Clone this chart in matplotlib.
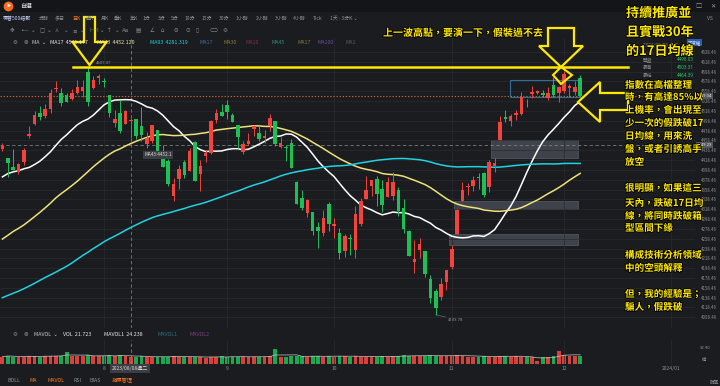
import matplotlib.pyplot as plt
import matplotlib.patheffects as pe
from matplotlib.patches import Polygon, Rectangle
import numpy as np
import pandas as pd

plt.rcParams['font.family'] = ['Noto Sans CJK TC', 'DejaVu Sans']

# 標普500指數 日K, 2023/07/05 - 2023/12/06
opens = [4442.04, 4422.62, 4404.54, 4394.23, 4415.55, 4467.69, 4491.50, 4514.61, 4508.86, 4521.78,
         4563.87, 4554.38, 4550.16, 4543.39, 4555.19, 4558.96, 4598.26, 4565.75, 4584.82,
         4578.83, 4550.93, 4494.27, 4513.96, 4491.58, 4498.03, 4501.57, 4487.16, 4450.69, 4458.13,
         4478.87, 4433.79, 4416.32, 4344.88, 4380.28, 4415.33, 4396.44, 4455.16, 4389.38, 4426.03,
         4432.75, 4500.34, 4517.01,
         4530.60, 4510.06, 4490.35, 4434.55, 4451.30, 4480.98, 4473.27, 4462.65, 4487.78, 4497.98,
         4445.13, 4445.41, 4452.81, 4374.36, 4341.74, 4310.62, 4312.88, 4282.63, 4269.65, 4328.18,
         4284.52, 4269.75, 4233.83, 4259.31, 4234.79, 4289.02, 4339.75, 4366.59, 4380.94, 4360.49,
         4342.37, 4345.23, 4357.35, 4321.36, 4273.85, 4210.40, 4235.79, 4232.42, 4175.99, 4152.93,
         4139.39, 4171.33,
         4201.27, 4268.26, 4334.23, 4364.27, 4366.21, 4384.37, 4391.41, 4364.15, 4406.66, 4458.97,
         4505.30, 4497.08, 4509.55, 4511.70, 4538.77, 4553.04, 4555.84, 4554.86, 4545.55, 4571.84,
         4554.87,
         4559.43, 4564.37, 4557.25, 4586.23]
highs = [4454.06, 4422.62, 4440.39, 4412.60, 4443.64, 4488.34, 4517.38, 4527.76, 4532.85, 4562.30,
         4578.43, 4564.74, 4555.00, 4563.41, 4580.62, 4582.47, 4607.07, 4590.16, 4594.22,
         4584.62, 4550.93, 4519.49, 4540.34, 4519.84, 4503.31, 4502.44, 4527.37, 4476.23, 4490.33,
         4478.87, 4449.95, 4421.17, 4381.82, 4407.55, 4418.59, 4443.18, 4458.30, 4418.46, 4439.56,
         4500.14, 4521.65, 4532.26,
         4541.25, 4514.29, 4490.35, 4457.81, 4473.53, 4490.77, 4487.11, 4479.39, 4511.99, 4497.98,
         4466.36, 4449.85, 4461.03, 4375.70, 4357.40, 4338.51, 4313.01, 4292.07, 4317.27, 4333.15,
         4300.58, 4281.15, 4268.50, 4267.13, 4324.10, 4341.73, 4385.46, 4378.64, 4385.85, 4377.10,
         4383.33, 4393.57, 4364.20, 4339.54, 4276.56, 4255.84, 4259.38, 4232.42, 4183.60, 4156.70,
         4177.47, 4195.55,
         4245.64, 4319.72, 4373.62, 4372.21, 4386.26, 4391.20, 4393.40, 4418.03, 4421.76, 4508.67,
         4521.17, 4511.99, 4520.12, 4557.11, 4542.14, 4568.43, 4560.31, 4560.52, 4568.14, 4587.64,
         4569.89,
         4599.39, 4572.37, 4578.56, 4590.74]
lows = [4436.61, 4385.05, 4397.40, 4389.92, 4408.46, 4463.23, 4489.36, 4499.56, 4504.90, 4514.59,
        4557.48, 4527.56, 4535.79, 4541.29, 4552.42, 4547.58, 4528.56, 4564.01, 4573.14,
        4567.53, 4505.75, 4485.54, 4474.55, 4491.15, 4464.39, 4461.33, 4457.92, 4443.98, 4453.44,
        4432.19, 4403.55, 4364.83, 4335.31, 4360.30, 4382.77, 4396.44, 4375.55, 4356.29, 4414.98,
        4431.68, 4493.59, 4507.39,
        4501.35, 4496.01, 4442.38, 4430.46, 4448.38, 4467.89, 4456.83, 4453.52, 4478.69, 4447.21,
        4442.11, 4416.61, 4401.38, 4329.17, 4316.49, 4302.70, 4265.98, 4238.63, 4264.38, 4274.86,
        4260.21, 4216.45, 4220.48, 4225.91, 4219.55, 4283.79, 4339.64, 4345.34, 4325.43, 4311.97,
        4342.37, 4337.54, 4303.84, 4269.69, 4223.03, 4189.22, 4219.43, 4181.42, 4127.90, 4103.78,
        4132.94, 4153.12,
        4197.74, 4268.26, 4334.23, 4347.53, 4355.41, 4359.76, 4343.94, 4353.34, 4393.82, 4458.97,
        4495.31, 4487.83, 4499.66, 4510.36, 4525.51, 4545.05, 4552.80, 4546.32, 4540.51, 4547.15,
        4537.24,
        4554.71, 4546.72, 4551.68, 4546.50]
closes = [4446.82, 4411.59, 4398.95, 4409.53, 4439.26, 4472.16, 4510.04, 4505.42, 4522.79, 4554.98,
          4565.72, 4534.87, 4536.34, 4554.64, 4567.46, 4566.75, 4537.41, 4582.23, 4588.96,
          4576.73, 4513.39, 4501.89, 4478.03, 4518.44, 4499.38, 4467.71, 4468.83, 4464.05, 4489.72,
          4437.86, 4404.33, 4370.36, 4369.71, 4399.77, 4387.55, 4436.01, 4376.31, 4405.71, 4433.31,
          4497.63, 4514.87, 4507.66,
          4515.77, 4496.83, 4465.48, 4451.14, 4457.49, 4487.46, 4461.90, 4467.44, 4505.10, 4450.32,
          4453.53, 4443.95, 4402.20, 4330.00, 4320.06, 4337.44, 4273.53, 4274.51, 4299.70, 4288.05,
          4288.39, 4229.45, 4263.75, 4258.19, 4308.50, 4335.66, 4358.24, 4376.95, 4349.61, 4327.78,
          4373.63, 4373.20, 4314.60, 4278.00, 4224.16, 4217.04, 4247.68, 4186.77, 4137.23, 4117.37,
          4166.82, 4193.80,
          4237.86, 4317.78, 4358.34, 4365.98, 4378.38, 4382.78, 4347.35, 4415.24, 4411.55, 4495.70,
          4502.88, 4508.24, 4514.02, 4547.38, 4538.19, 4556.62, 4559.34, 4550.43, 4554.89, 4550.58,
          4567.80,
          4594.63, 4569.78, 4567.18, 4549.34]
# 成交量 (億)
volumes = [22, 25, 22, 21, 22, 24, 23, 22, 23, 24, 25, 25, 37, 23, 23, 24, 27, 23, 24,
           23, 26, 24, 27, 22.467, 21.723, 22, 23, 20, 20, 21, 22, 22, 24, 21, 20, 20, 22, 22, 18,
           21, 20, 23,
           20, 22, 21, 22, 20, 21, 22, 22, 23, 46, 21, 22, 23, 24, 23, 21, 23, 24, 22, 24,
           22, 24, 23, 22, 24, 20, 22, 21, 22, 23, 22, 23, 23, 26, 25, 24, 24, 24, 26, 25, 23, 24,
           25, 26, 25, 22, 22, 22, 23, 22, 20, 25, 24, 22, 23, 20, 20, 19, 8, 21, 22, 23, 39,
           26, 24, 24, 23]
# closes 2023/02/21 - 2023/07/03, only used to warm up the moving averages
warmup_closes = [3997.34, 3991.05, 4012.32, 3970.04, 3982.24, 3970.15,
                 3951.39, 3981.35, 4045.64, 4048.42, 3986.37, 3992.01, 3918.32, 3861.59, 3855.76,
                 3919.29, 3891.93, 3960.28, 3916.64, 3951.57, 4002.87, 3936.97, 3948.72, 3970.99,
                 3977.53, 3971.27, 4027.81, 4050.83, 4109.31,
                 4124.51, 4100.60, 4090.38, 4105.02, 4109.11, 4108.94, 4091.95, 4146.22, 4137.64,
                 4151.32, 4154.87, 4154.52, 4129.79, 4133.52, 4137.04, 4071.63, 4055.99, 4135.35,
                 4169.48,
                 4167.87, 4119.58, 4090.75, 4061.22, 4136.25, 4138.12, 4119.17, 4137.64, 4130.62,
                 4124.08, 4136.28, 4109.90, 4158.77, 4198.05, 4191.98, 4192.63, 4145.58, 4115.24,
                 4151.28, 4205.45, 4205.52, 4179.83,
                 4221.02, 4282.37, 4273.79, 4283.85, 4267.52, 4293.93, 4298.86, 4338.93, 4369.01,
                 4372.59, 4425.84, 4409.59, 4388.71, 4365.69, 4381.89, 4348.33, 4328.82, 4378.41,
                 4376.86, 4396.44, 4450.38,
                 4455.59]

month_idx = [19, 42, 62, 84, 105, 125]
month_lbl = ['8', '9', '10', '11', '12', '2024/01']
ma_periods = [17, 43, 93]
ma_colors = ['#ffffff', '#efe27a', '#1fd3e3']
cross_idx = 24          # 2023/08/08
cross_price = 4449.23
gap_idx = [84, 85, 92]  # 11/01, 11/02, 11/13 -> 跳空缺口
box_x = (94.9, 107.9)
box_y = (4546.8, 4581.4)

BG = '#1b1c1f'
GRID = '#2a2b30'
RED = '#f2433c'
GREEN = '#1fbf58'
YEL = '#ffe800'
TXT = '#8e8f94'

o = np.array(opens); h = np.array(highs); l = np.array(lows); c = np.array(closes)
v = np.array(volumes)
idx = np.arange(len(c))
up = c >= o
col = np.where(up, RED, GREEN)

allc = pd.Series(warmup_closes + closes)
mas = [allc.rolling(p).mean().values[len(warmup_closes):] for p in ma_periods]
mavol = pd.Series(v).rolling(5, min_periods=1).mean().values

W, H = 720, 386
def fx(x):
    return x / W
def fy(y):
    return 1 - y / H

fig = plt.figure(figsize=(7.2, 3.86), dpi=100, facecolor=BG)

# ---- main price panel
ax = fig.add_axes([0, fy(328), fx(695), (328 - 38) / H], facecolor=BG)
ax.set_xlim(-0.449, 129.46)
ax.set_ylim(4076.70, 4666.97)
yt = np.arange(4098.46, 4640, 20)
ax.set_yticks(yt)
ax.set_yticklabels([f'{t:.2f}' for t in yt])
ax.yaxis.tick_right()
ax.tick_params(axis='y', length=0, pad=4, labelsize=3.1, labelcolor=TXT)
ax.set_xticks(month_idx)
ax.tick_params(axis='x', length=0, labelbottom=False)
ax.grid(True, color=GRID, lw=0.5)
for s in ax.spines.values():
    s.set_visible(False)
ax.axvline(129.46, color='#3a3b40', lw=0.6)

# gap zones and consolidation box
for g in gap_idx:
    ax.add_patch(Rectangle((g - 0.6, h[g]), box_x[1] - 0.3 - (g - 0.6), l[g + 1] - h[g],
                           facecolor='#4a505a', edgecolor='#5c626c', alpha=0.75, lw=0.6, zorder=1))
ax.add_patch(Rectangle((box_x[0], box_y[0]), box_x[1] - box_x[0], box_y[1] - box_y[0],
                       facecolor='none', edgecolor='#2f6f98', lw=0.8, zorder=4))

# moving averages
for m, cc in zip(mas, ma_colors):
    ax.plot(idx, m, color=cc, lw=1.1, zorder=3)

# candles
ax.vlines(idx, l, h, colors=col, lw=0.7, zorder=5)
body = np.maximum(np.abs(c - o), 0.8)
ax.bar(idx, body, bottom=np.minimum(o, c), width=0.66, color=col, zorder=6, lw=0)

# reference lines
imax = int(np.argmax(h)); imin = int(np.argmin(l))
ax.plot([13.2, 117], [h[imax], h[imax]], color=YEL, lw=1.8, zorder=7)
ax.axhline(c[-1], color='#c3672d', lw=0.8, ls=(0, (1.2, 1.6)), zorder=2)
ax.axhline(cross_price, color='#7d7e84', lw=0.6, ls=(0, (4, 3)), zorder=2)
ax.axvline(cross_idx, color='#7d7e84', lw=0.6, ls=(0, (4, 3)), zorder=2)
ax.annotate(f'{h[imax]:.2f}', xy=(imax, h[imax]), xytext=(6, 2.5), textcoords='offset points',
            fontsize=3.1, color=TXT, family='Roboto')
ax.annotate(f'{l[imin]:.2f}', xy=(imin, l[imin]), xytext=(9, -3.5), textcoords='offset points',
            fontsize=3.1, color=TXT, family='Roboto', va='center',
            arrowprops=dict(arrowstyle='-', color='#6d6e73', lw=0.5, shrinkA=0, shrinkB=0))

# ---- volume panel
av = fig.add_axes([0, fy(363.5), fx(695), 23.5 / H], facecolor=BG)
av.set_xlim(-0.449, 129.46)
av.set_ylim(0, 74)
av.bar(idx, v, width=0.72, color=np.where(up, '#d8403a', '#1aa851'), lw=0)
av.plot(idx, mavol, color='#c9c9c9', lw=0.5)
av.set_xticks(month_idx)
av.set_xticklabels(month_lbl)
av.tick_params(axis='x', length=0, pad=1.5, labelsize=3.6, labelcolor=TXT)
av.set_yticks([])
av.grid(True, axis='x', color=GRID, lw=0.5)
for s in av.spines.values():
    s.set_visible(False)
av.axvline(cross_idx, color='#7d7e84', lw=0.6, ls=(0, (4, 3)))
av.axvline(129.46, color='#3a3b40', lw=0.6)

# ---- overlay for the UI text and hand drawn marks
ov = fig.add_axes([0, 0, 1, 1])
ov.set_xlim(0, W); ov.set_ylim(H, 0)
ov.axis('off')
ov.patch.set_alpha(0)

def t(x, y, s, size=4, color=TXT, ha='left', **kw):
    ov.text(x, y, s, fontsize=size, color=color, ha=ha, va='center', **kw)

# title bar
ov.add_patch(Rectangle((0, 0), W, 12, facecolor='#141518', lw=0))
ov.plot([8], [6], 'o', ms=6, color='#ff6a1a')
t(6.6, 6, '▶', 3, 'white')
t(20, 6, '自選', 4.2, '#e6e6e6')
t(695, 6, '□', 4.5, '#9a9a9a')
t(710, 6, '✕', 4.5, '#9a9a9a')

# period tabs
tabs = [(3, '標普500指數', '#c9d4ff'), (39, '分時', TXT), (55, '多日', TXT), (72, '日K', '#ff7a1f'),
        (86, '週K', TXT), (101, '月K', TXT), (114, '季K', TXT), (130, '年K', TXT), (143, '1分', TXT),
        (158, '3分', TXT), (171, '5分', TXT), (185, '10分', TXT), (202, '15分', TXT), (219, '30分', TXT),
        (236, '1小時', TXT), (256, '2小時', TXT), (275, '3小時', TXT), (293, '4小時', TXT),
        (313, 'Tick', TXT), (330, '1天 : 3分K ⌄', TXT)]
for x, s, cc in tabs:
    t(x, 18.3, s, 3.6, cc)
t(707, 18.3, 'VS', 3.6, TXT)

# tool icons
icons = [(10, '✥'), (20, '•—'), (31, '⌄'), (40, '▢'), (47, '⌄'), (55, '⋏'), (64, '⌄'), (72, '≡'),
         (80, '⌄'), (89, '⊢⊣'), (100, '⌄'), (107, '↑'), (115, '⌄'), (122, 'Aa'), (136, '▤'),
         (150, '∠'), (161, '⌂'), (173, '⊖'), (185, '⊙'), (196, '▯'), (210, '⊂⊃'), (223, '⚙')]
for x, s in icons:
    t(x, 30.7, s, 4, '#8a8b90', family='DejaVu Sans')

# MA legend
t(13, 42.3, '⚙', 4, TXT, family='DejaVu Sans')
t(24, 42.3, '⊗', 4, TXT, family='DejaVu Sans')
t(32, 42.3, 'MA  ⌄', 3.8, '#c8c8c8')
t(50, 42.3, f'MA17  {mas[0][cross_idx]:.3f}', 3.8, '#e8e8e8')
t(97, 42.3, f'MA43  {mas[1][cross_idx]:.3f}', 3.8, '#efe7a8')
t(150, 42.3, f'MA93  {mas[2][cross_idx]:.3f}', 3.8, '#1fd3e3')
for x, s, cc in [(200, 'MA17', '#3f6f9a'), (223, 'MA30', '#8d7a3a'), (245, 'MA10', '#8a2f35'),
                 (272, 'MA45', '#2f8f86'), (297, 'MA17', '#8d7a3a'), (318, 'MA100', '#6e4aa8'),
                 (346, 'MA1', '#5a5b60')]:
    t(x, 42.3, s, 3.8, cc)

# value boxes on the price scale
t(697, 95.6, f'{c[-1]:.2f}', 3.1, '#e8e8e8', family='Roboto',
  bbox=dict(boxstyle='square,pad=0.25', fc='#55575d', ec='none'))
t(697, 145, f'{cross_price:.2f}', 3.1, '#e8e8e8', family='Roboto',
  bbox=dict(boxstyle='square,pad=0.25', fc='#55575d', ec='none'))
t(158, 155, f'MA43:{mas[1][cross_idx]:.1f}', 3.4, '#d8d8d8', ha='center',
  bbox=dict(boxstyle='square,pad=0.3', fc='#3b3d42', ec='none'))

# info panel (crosshair bar)
t(643, 45, '2023/08/08 週二', 3.4, TXT)
t(688, 42.5, '不復權', 3.2, '#cfe0ff', bbox=dict(boxstyle='square,pad=0.2', fc='#2d5fa8', ec='none'))
for y, k, val in [(59.5, '開盤', o[cross_idx]), (67.5, '最高', h[cross_idx]), (75.5, '最低', l[cross_idx])]:
    t(643, y, k, 3.4, TXT)
    t(677, y, f'{val:.2f}', 3.4, '#22c25e', family='Roboto')

# volume legend and scale
t(13, 334.7, '⚙', 4, TXT, family='DejaVu Sans')
t(24, 334.7, '⊗', 4, TXT, family='DejaVu Sans')
t(34, 334.7, 'MAVOL  ⌄', 3.8, '#c8c8c8')
t(63, 334.7, f'VOL  {v[cross_idx]:.3f}', 3.8, '#e8e8e8')
t(104, 334.7, f'MAVOL1  {mavol[cross_idx]:.3f}', 3.8, '#e8e8e8')
t(158, 334.7, 'MAVOL1', 3.8, '#2d6f86')
t(190, 334.7, 'MAVOL2', 3.8, '#7a3f86')
t(700, 347.7, '32.90', 3.1, TXT, family='Roboto')
t(702, 359.5, '億', 3.1, TXT)

# crosshair date tag
t(130, 368.5, '2023/08/08週二', 3.6, '#d8d8d8', ha='center',
  bbox=dict(boxstyle='square,pad=0.35', fc='#3b3d42', ec='none'))

# indicator tabs
for x, s, cc in [(8, 'BOLL', TXT), (29, 'MA', '#ff7a1f'), (47, 'MAVOL', '#ff7a1f'),
                 (74, 'RSI', TXT), (90, 'BIAS', TXT), (112, '指標管理', '#ff7a1f')]:
    t(x, 381, s, 3.8, cc)
t(710, 382, '時區', 3.4, TXT)

# hand drawn yellow arrows
def down_arrow(cx, top, neck, tip, sw, hw):
    return [(cx - sw, top), (cx + sw, top), (cx + sw, neck), (cx + hw, neck), (cx, tip),
            (cx - hw, neck), (cx - sw, neck)]

ov.add_patch(Polygon(down_arrow(89.5, 17, 42, 65, 5.5, 17), closed=True, fc=BG, ec=YEL, lw=1.6))
ov.add_patch(Polygon(down_arrow(561, 28, 46, 67, 13, 22), closed=True, fc='none', ec=YEL, lw=1.6))
ov.add_patch(Polygon([(553, 75), (561, 67), (572, 75), (561, 84)], closed=True, fc='none', ec=YEL, lw=1.5))
ov.add_patch(Polygon([(578, 102), (600, 82), (600, 93), (628, 93), (628, 110), (600, 110), (600, 122)],
                     closed=True, fc=BG, ec=YEL, lw=1.6))

# yellow notes
fx_eff = [pe.withStroke(linewidth=1.2, foreground='black')]
def note(x, y, s, size):
    ov.text(x, y, s, fontsize=size, color=YEL, ha='left', va='center', fontweight='bold',
            path_effects=fx_eff)

note(383, 33, '上一波高點，要演一下，假裝過不去', 7.2)
for y, s in [(13, '持續推廣並'), (32, '且實戰30年'), (51, '的17日均線')]:
    note(626, y, s, 9.4)
side = [(85, '指數在高檔整理'), (97, '時，有高達85%以'), (110, '上機率，會出現至'),
        (123, '少一次的假跌破17'), (136, '日均線，用來洗'), (149, '盤，或者引誘高手'),
        (162, '放空'), (188, '很明顯，如果這三'), (203, '天內，跌破17日均'),
        (216, '線，將同時跌破箱'), (228, '型區間下緣'), (255, '構成技術分析領域'),
        (268, '中的空頭解釋'), (294, '但，我的經驗是；'), (307, '騙人，假跌破')]
for y, s in side:
    note(625, y, s, 6.9)

fig.savefig('out.png', dpi=100, facecolor=BG)
